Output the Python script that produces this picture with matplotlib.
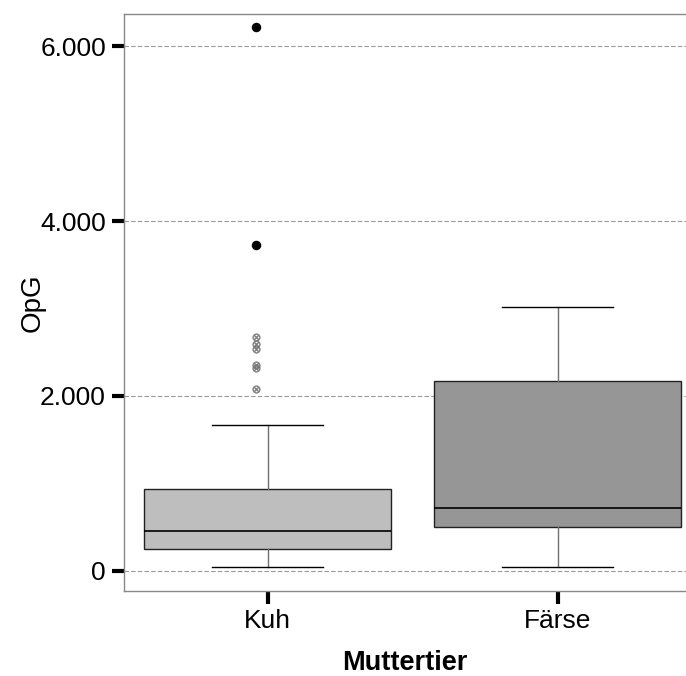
import matplotlib
matplotlib.use('Agg')
import matplotlib.pyplot as plt
from matplotlib.ticker import FuncFormatter

plt.rcParams['font.family'] = ['Liberation Sans', 'DejaVu Sans']

categories = ['Kuh', 'Färse']
q1 = [250, 500]
med = [455, 720]
q3 = [935, 2170]
whislo = [45, 45]
whishi = [1665, 3015]
far_outliers = [[3730, 6215], []]
near_outliers = [[2080, 2320, 2360, 2540, 2600, 2680], []]
box_colors = ['#bebebe', '#969696']
yticks = [0, 2000, 4000, 6000]

fig = plt.figure(figsize=(6.86, 6.76), dpi=100)
ax = fig.add_axes([0.1808, 0.1257, 0.8192, 0.8536])

stats = []
for i in range(len(categories)):
    stats.append(dict(q1=q1[i], med=med[i], q3=q3[i], whislo=whislo[i],
                      whishi=whishi[i], fliers=[], label=categories[i]))

pos = list(range(len(categories)))
bp = ax.bxp(stats, positions=pos, widths=0.85, patch_artist=True, showfliers=False,
            boxprops=dict(edgecolor='#222222', linewidth=1.0),
            medianprops=dict(color='black', linewidth=1.2),
            whiskerprops=dict(color='#707070', linewidth=1.0),
            capprops=dict(color='black', linewidth=1.0),
            capwidths=0.38, zorder=3)
for patch, c in zip(bp['boxes'], box_colors):
    patch.set_facecolor(c)

# Ausreißer leicht nach links versetzt wie im Original
shift = -0.04
for i in pos:
    if far_outliers[i]:
        ax.scatter([i + shift] * len(far_outliers[i]), far_outliers[i], marker='o', s=34,
                   color='black', zorder=4)
    if near_outliers[i]:
        ax.scatter([i + shift] * len(near_outliers[i]), near_outliers[i], marker='$\\otimes$', s=30,
                   color='#777777', linewidths=0.3, zorder=4)

ax.set_xlim(-0.495, 1.443)
ax.set_ylim(-229, 6366)
ax.set_yticks(yticks)
ax.yaxis.set_major_formatter(FuncFormatter(lambda v, p: '{:,.0f}'.format(v).replace(',', '.')))
ax.grid(axis='y', linestyle=(0, (4, 2)), color='#999999', linewidth=0.8, zorder=0)
ax.set_axisbelow(True)

for s in ['left', 'bottom', 'top']:
    ax.spines[s].set_color('#888888')
    ax.spines[s].set_linewidth(1.0)
ax.spines['right'].set_visible(False)

ax.tick_params(axis='both', direction='out', length=9, width=3, color='black',
               labelsize=19, pad=4)
ax.set_ylabel('OpG', fontsize=20, labelpad=-4)
ax.set_xlabel('Muttertier', fontsize=19.5, fontweight='bold', labelpad=12)

fig.savefig('out.png', dpi=100)
